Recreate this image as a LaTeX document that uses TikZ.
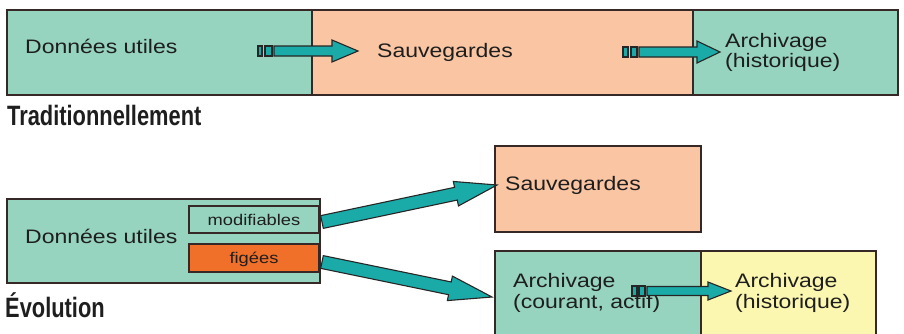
\documentclass[tikz,border=0pt]{standalone}
\usepackage{fontspec}
\setmainfont{Liberation Sans}[FakeStretch=1.18]
\newfontfamily\headfont{Liberation Sans}[FakeStretch=0.78]
\usetikzlibrary{calc}

\definecolor{mint}{RGB}{150,212,192}
\definecolor{peach}{RGB}{249,197,162}
\definecolor{hotorange}{RGB}{240,112,42}
\definecolor{paleyellow}{RGB}{251,246,176}
\definecolor{arrowteal}{RGB}{26,170,168}
\definecolor{edge}{RGB}{55,40,40}
\definecolor{ink}{RGB}{30,30,30}

\tikzset{
  box/.style={draw=edge, line width=1.3pt, rectangle, inner sep=0pt, outer sep=0pt, anchor=north west},
  lbl/.style={inner sep=0pt, anchor=base west, text=ink, font=\fontsize{19.5}{22}\selectfont},
  small/.style={inner sep=0pt, anchor=base, text=ink, font=\fontsize{15.5}{18}\selectfont},
  heading/.style={inner sep=0pt, anchor=base west, text=ink, font=\headfont\bfseries\fontsize{28}{30}\selectfont},
  arrowbody/.style={fill=arrowteal, draw=black!85, line width=1.1pt, line join=miter},
}

% block arrow: #1 start, #2 tip, #3 half shaft width, #4 half head width, #5 head length
\newcommand\blockarrow[5]{%
  \coordinate (hb) at ($(#2)!#5!(#1)$);
  \filldraw[arrowbody] ($(#1)!#3!90:(#2)$) -- ($(hb)!#3!90:(#2)$) -- ($(hb)!#4!90:(#2)$)
    -- (#2) -- ($(hb)!#4!-90:(#2)$) -- ($(hb)!#3!-90:(#2)$) -- ($(#1)!#3!-90:(#2)$) -- cycle;}

\begin{document}
\begin{tikzpicture}[x=1pt, y=-1pt]
\useasboundingbox (0,0) rectangle (904,333);
\clip (0,0) rectangle (904,333);
\fill[white] (0,0) rectangle (904,333);

% ---------- top strip ----------
\node[box, fill=mint,  minimum width=305pt, minimum height=85pt] (tData) at (7,10) {};
\node[box, fill=peach, minimum width=381pt, minimum height=85pt] (tSave) at (312,10) {};
\node[box, fill=mint,  minimum width=205pt, minimum height=85pt] (tArch) at (693,10) {};

\node[lbl] (tDataL) at (25,53) {Données utiles};
\node[lbl] (tSaveL) at (377,57) {Sauvegardes};
\node[lbl] (tArchL1) at (725,47) {Archivage};
\node[lbl] (tArchL2) at (725,67) {(historique)};

% arrow data -> backups
\coordinate (a1s) at (274,51);
\coordinate (a1e) at (358,51);
\filldraw[arrowbody] (258,46) rectangle (262,56);
\filldraw[arrowbody] (265,46) rectangle (272,56);
\blockarrow{a1s}{a1e}{5pt}{11pt}{26pt}

% arrow backups -> archive
\coordinate (a2s) at (639,52);
\coordinate (a2e) at (720,52);
\filldraw[arrowbody] (623,47) rectangle (628,57);
\filldraw[arrowbody] (631,47) rectangle (637,57);
\blockarrow{a2s}{a2e}{5pt}{11pt}{23pt}

\node[heading] (trad) at (7,125) {Traditionnellement};

% ---------- bottom part ----------
\node[box, fill=mint, minimum width=313pt, minimum height=84pt] (bData) at (7,199) {};
\node[box, fill=mint, minimum width=130pt, minimum height=27pt] (mod) at (189,206) {};
\node[box, fill=hotorange, minimum width=130pt, minimum height=28pt] (fig) at (189,244) {};
\node[lbl] (bDataL) at (25,243) {Données utiles};
\node[small] (modL) at (254,225) {modifiables};
\node[small] (figL) at (254,263) {figées};

\node[box, fill=peach, minimum width=206pt, minimum height=86pt] (bSave) at (495,146) {};
\node[lbl] (bSaveL) at (505,190) {Sauvegardes};

\node[box, fill=mint, minimum width=206pt, minimum height=110pt] (bArch) at (495,251) {};
\node[box, fill=paleyellow, minimum width=175pt, minimum height=110pt] (bHist) at (701,251) {};
\node[lbl] (bArchL1) at (513,287) {Archivage};
\node[lbl] (bArchL2) at (513,308) {(courant, actif)};
\node[lbl] (bHistL1) at (735,287) {Archivage};
\node[lbl] (bHistL2) at (735,308) {(historique)};

% diagonal arrows
\coordinate (d1s) at (322,222);
\coordinate (d1e) at (497,185);
\blockarrow{d1s}{d1e}{6.5pt}{12.5pt}{42pt}
\coordinate (d2s) at (322,262);
\coordinate (d2e) at (492,297);
\blockarrow{d2s}{d2e}{6.5pt}{12.5pt}{43pt}

% arrow current archive -> historical archive
\coordinate (a3s) at (647,291);
\coordinate (a3e) at (731,291);
\filldraw[arrowbody] (632,286) rectangle (637,296);
\filldraw[arrowbody] (639,286) rectangle (645,296);
\blockarrow{a3s}{a3e}{4.5pt}{9pt}{23pt}

\node[heading] (evo) at (5,317) {Évolution};
\end{tikzpicture}
\end{document}
